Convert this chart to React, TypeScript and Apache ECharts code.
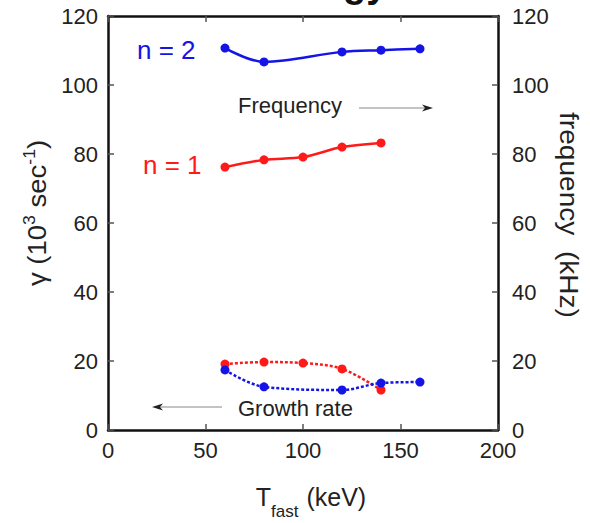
import React, { useEffect, useRef } from "react";
import * as echarts from "echarts";

const tFast = [60, 80, 100, 120, 140, 160];
const freqN2: (number | null)[] = [110.7, 106.7, null, 109.6, 110.1, 110.5];
const freqN1: (number | null)[] = [76.2, 78.3, 79.1, 82.0, 83.2, null];
const growthN1: (number | null)[] = [19.1, 19.7, 19.4, 17.7, 11.6, null];
const growthN2: (number | null)[] = [17.4, 12.5, null, 11.6, 13.6, 13.9];
const yTicks = [0, 20, 40, 60, 80, 100, 120];
const xTicks = [0, 50, 100, 150, 200];

const BLUE = "#1414e6";
const RED = "#ff1a1a";
const FONT = "Liberation Sans, Arial, sans-serif";

function pairs(vals: (number | null)[]) {
  const out: [number, number][] = [];
  vals.forEach((v, i) => {
    if (v !== null) out.push([tFast[i], v]);
  });
  return out;
}

export default function App() {
  const ref = useRef<HTMLDivElement>(null);
  useEffect(() => {
    const chart = echarts.init(ref.current!, undefined, { renderer: "svg" });
    const lineCommon = { show: true, onZero: false, lineStyle: { color: "#111", width: 2.5 } };
    const tickCommon = { show: true, inside: true, length: 6, lineStyle: { color: "#555", width: 1.5 } };
    const axisCommon = {
      type: "value" as const,
      min: yTicks[0],
      max: yTicks[yTicks.length - 1],
      interval: 20,
      splitLine: { show: false },
      axisLine: lineCommon,
      axisTick: tickCommon,
    };
    const xCommon = {
      type: "value" as const,
      min: xTicks[0],
      max: xTicks[xTicks.length - 1],
      interval: 50,
      splitLine: { show: false },
      axisLine: lineCommon,
      axisTick: tickCommon,
    };
    const lineSeries = (data: [number, number][], color: string, dotted: boolean, yIdx: number) => ({
      type: "line" as const,
      data,
      yAxisIndex: yIdx,
      smooth: 0.35,
      symbol: "circle",
      symbolSize: 9,
      itemStyle: { color },
      lineStyle: { color, width: 2.5, type: dotted ? ([3, 2] as any) : "solid" },
    });
    const labelStyle = { show: true, color: "#222", fontSize: 22, fontFamily: FONT };
    chart.setOption({
      animation: false,
      backgroundColor: "#fff",
      grid: { left: 108, right: 92, top: 16, bottom: 93 },
      xAxis: [
        { ...xCommon, position: "bottom", axisLabel: { ...labelStyle, margin: 9 } },
        { ...xCommon, position: "top", axisLabel: { show: false } },
      ],
      yAxis: [
        { ...axisCommon, position: "left", axisLabel: { ...labelStyle, margin: 10 } },
        { ...axisCommon, position: "right", axisLabel: { ...labelStyle, margin: 14 } },
      ],
      series: [
        lineSeries(pairs(freqN2), BLUE, false, 1),
        lineSeries(pairs(freqN1), RED, false, 1),
        lineSeries(pairs(growthN1), RED, true, 0),
        lineSeries(pairs(growthN2), BLUE, true, 0),
      ],
      graphic: [
        {
          type: "text",
          x: 343,
          y: 3,
          style: { text: "gy", fill: "#111", font: `bold 38px ${FONT}`, verticalAlign: "bottom" },
        },
        { type: "text", left: 137, top: 37, style: { text: "n = 2", fill: BLUE, font: `26px ${FONT}` } },
        { type: "text", left: 143, top: 152, style: { text: "n = 1", fill: RED, font: `26px ${FONT}` } },
        { type: "text", left: 238, top: 94, style: { text: "Frequency", fill: "#222", font: `22px ${FONT}` } },
        {
          type: "line",
          shape: { x1: 359, y1: 108, x2: 430, y2: 108 },
          style: { stroke: "#888", lineWidth: 1 },
        },
        {
          type: "polygon",
          shape: { points: [[433, 108], [422, 104.5], [425, 108], [422, 111.5]] },
          style: { fill: "#222" },
        },
        { type: "text", left: 238, top: 397, style: { text: "Growth rate", fill: "#222", font: `22px ${FONT}` } },
        {
          type: "line",
          shape: { x1: 155, y1: 407, x2: 222, y2: 407 },
          style: { stroke: "#888", lineWidth: 1 },
        },
        {
          type: "polygon",
          shape: { points: [[152, 407], [163, 403.5], [160, 407], [163, 410.5]] },
          style: { fill: "#222" },
        },
        {
          type: "text",
          x: 37,
          y: 213,
          rotation: Math.PI / 2,
          scaleX: 1.1,
          style: {
            text: "{a|γ (10}{s|3}{a| sec}{s|-1}{a|)}",
            align: "center",
            verticalAlign: "middle",
            fill: "#222",
            rich: {
              a: { fontSize: 25, fontFamily: FONT, fill: "#222" },
              s: { fontSize: 16, fontFamily: FONT, fill: "#222", padding: [0, 0, 15, 0] },
            },
          },
        },
        {
          type: "text",
          x: 569,
          y: 215,
          rotation: -Math.PI / 2,
          scaleX: 1.08,
          style: {
            text: "frequency  (kHz)",
            align: "center",
            verticalAlign: "middle",
            fill: "#222",
            font: `26px ${FONT}`,
          },
        },
        {
          type: "text",
          x: 311,
          y: 497,
          style: {
            text: "{a|T}{s|fast}{a| (keV)}",
            align: "center",
            verticalAlign: "middle",
            fill: "#222",
            rich: {
              a: { fontSize: 25, fontFamily: FONT, fill: "#222" },
              s: { fontSize: 17, fontFamily: FONT, fill: "#222", padding: [28, 1, 0, 0] },
            },
          },
        },
      ],
    });
    return () => chart.dispose();
  }, []);
  return (
    <div
      ref={ref}
      style={{ position: "absolute", left: 0, top: 0, width: 590, height: 523 }}
    />
  );
}
